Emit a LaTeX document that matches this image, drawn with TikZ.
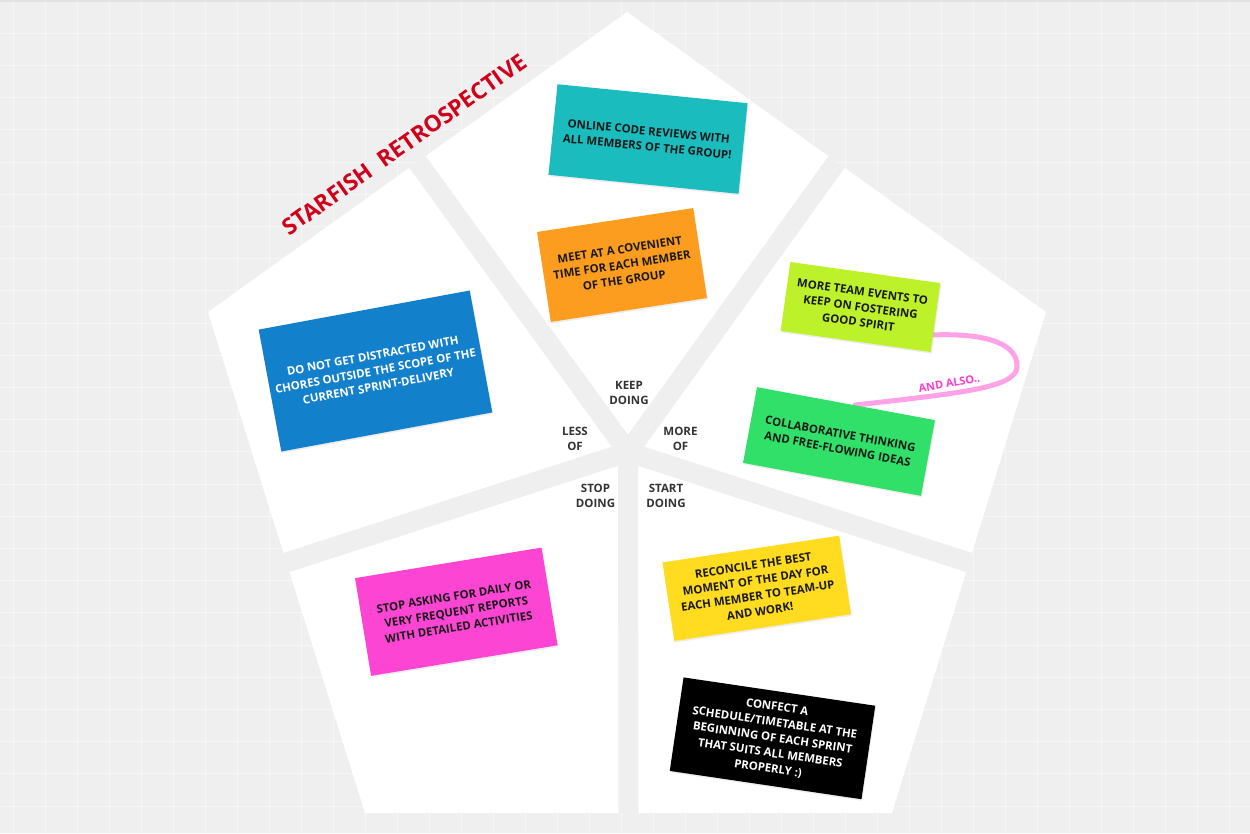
\documentclass[tikz,border=0pt]{standalone}
\usepackage{fontspec}
\setmainfont{Open Sans}
\usetikzlibrary{calc,shadows}

\definecolor{bg}{HTML}{EFEFEF}
\definecolor{gridline}{HTML}{F6F6F6}
\definecolor{topbar}{HTML}{E2E2E2}
\definecolor{titlered}{HTML}{D0021B}
\definecolor{lbltext}{HTML}{333333}
\definecolor{notetext}{HTML}{1A1A1A}
\definecolor{cteal}{HTML}{1BBCBE}
\definecolor{corange}{HTML}{FD9D1F}
\definecolor{cblue}{HTML}{1380CC}
\definecolor{clime}{HTML}{BDF22B}
\definecolor{cgreen}{HTML}{30E068}
\definecolor{cmagenta}{HTML}{FD45D3}
\definecolor{cyellow}{HTML}{FFDC20}
\definecolor{linkpink}{HTML}{FFA2E6}
\definecolor{linktext}{HTML}{FF3DC8}

\newcommand\stickyfont{\fontsize{11.4}{15.5}\selectfont\bfseries}
\newcommand\lblfont{\fontsize{11.5}{15.5}\selectfont\bfseries}

\pgfdeclarelayer{base}
\pgfdeclarelayer{links}
\pgfsetlayers{base,links,main}

\tikzset{
  note/.style={inner sep=0pt, align=center, font=\stickyfont, text=notetext,
    drop shadow={opacity=0.14, shadow xshift=0.8pt, shadow yshift=-1.6pt}},
  darknote/.style={note, text=white},
  zonelabel/.style={align=center, font=\lblfont, text=lbltext, inner sep=0pt},
  connector/.style={draw=linkpink, line width=5, line cap=round},
  linklabel/.style={font=\fontsize{11}{13}\selectfont\bfseries, text=linktext, inner sep=0pt, anchor=base},
  titletext/.style={font=\fontsize{22.8}{26}\selectfont\bfseries, text=titlered, inner sep=0pt, anchor=base},
}

\begin{document}
\begin{tikzpicture}[x=1pt,y=-1pt]
\useasboundingbox (0,0) rectangle (1250,833);

% pentagon corners, centre and edge midpoints
\coordinate (T) at (627,12);
\coordinate (R) at (1046,312);
\coordinate (BR) at (892,813);
\coordinate (BL) at (365,813);
\coordinate (L) at (208,312);
\coordinate (C) at (628,452);
\coordinate (mTL) at ($(T)!0.5!(L)$);
\coordinate (mTR) at ($(T)!0.5!(R)$);
\coordinate (mR) at ($(R)!0.5!(BR)$);
\coordinate (mB) at ($(BR)!0.5!(BL)$);
\coordinate (mL) at ($(BL)!0.5!(L)$);

\begin{pgfonlayer}{base}
  % canvas with grid
  \fill[bg] (0,0) rectangle (1250,833);
  \foreach \i in {0,...,38}
    \draw[gridline, line width=1] ({13.3+32*\i},0) -- ({13.3+32*\i},833);
  \foreach \j in {0,...,26}
    \draw[gridline, line width=1] (0,{1+32.2*\j}) -- (1250,{1+32.2*\j});
  \fill[topbar] (0,0) rectangle (1250,2);

  % starfish board: white pentagon split into five zones
  \fill[white] (T) -- (R) -- (BR) -- (BL) -- (L) -- cycle;
  \begin{scope}
    \clip (T) -- (R) -- (BR) -- (BL) -- (L) -- cycle;
    \foreach \m in {mTL,mTR,mR,mB,mL}
      \draw[bg, line width=20, line cap=round] (C) -- ($(C)!1.3!(\m)$);
  \end{scope}
\end{pgfonlayer}

% title
\node[titletext, rotate=35.5] (title) at (409,151) {STARFISH\ \ RETROSPECTIVE};

% zone labels around the centre
\node[zonelabel] (keep)  at (629,393)   {KEEP\\DOING};
\node[zonelabel] (less)  at (575,439)   {LESS\\OF};
\node[zonelabel] (more)  at (680.5,439) {MORE\\OF};
\node[zonelabel] (stop)  at (595.5,496) {STOP\\DOING};
\node[zonelabel] (start) at (666,496)   {START\\DOING};

% sticky notes
\node[note, fill=cteal, minimum width=191, minimum height=91, rotate=-5.7]
  (online) at (648,139) {ONLINE CODE REVIEWS WITH\\ALL MEMBERS OF THE GROUP!};
\node[note, fill=corange, minimum width=158, minimum height=91, rotate=8.7]
  (meet) at (622,265) {MEET AT A COVENIENT\\TIME FOR EACH MEMBER\\OF THE GROUP};
\node[darknote, fill=cblue, minimum width=214.6, minimum height=124, rotate=10.5]
  (distract) at (375.5,371) {DO NOT GET DISTRACTED WITH\\CHORES OUTSIDE THE SCOPE OF THE\\CURRENT SPRINT-DELIVERY};
\node[note, fill=clime, minimum width=151.5, minimum height=69.6, rotate=-8]
  (events) at (860.5,307) {MORE TEAM EVENTS TO\\KEEP ON FOSTERING\\GOOD SPIRIT};
\node[note, fill=cgreen, minimum width=181, minimum height=77, rotate=-10.5]
  (collab) at (839,441.5) {COLLABORATIVE THINKING\\AND FREE-FLOWING IDEAS};
\node[note, fill=cmagenta, minimum width=189, minimum height=99, rotate=9.3]
  (reports) at (456.3,611.7) {STOP ASKING FOR DAILY OR\\VERY FREQUENT REPORTS\\WITH DETAILED ACTIVITIES};
\node[note, fill=cyellow, minimum width=178.7, minimum height=79.4, rotate=8.6]
  (reconcile) at (756.7,588.3) {RECONCILE THE BEST\\MOMENT OF THE DAY FOR\\EACH MEMBER TO TEAM-UP\\AND WORK!};
\node[darknote, fill=black, minimum width=193.8, minimum height=94.5, rotate=-8.4]
  (schedule) at (772.5,738.3) {CONFECT A\\SCHEDULE/TIMETABLE AT THE\\BEGINNING OF EACH SPRINT\\THAT SUITS ALL MEMBERS\\PROPERLY :)};

% link between the two "more of" notes
\begin{pgfonlayer}{links}
  \draw[connector] ($(events.east)!0.5!(events.south east)$)
    .. controls (990,333) and (1018,345) .. (1017,367)
    .. controls (1016,388) and (960,393) .. ($(collab.north)!0.1!(collab.north east)$);
\end{pgfonlayer}
\node[linklabel, rotate=10] (also) at (950,387) {AND ALSO..};

\end{tikzpicture}
\end{document}
